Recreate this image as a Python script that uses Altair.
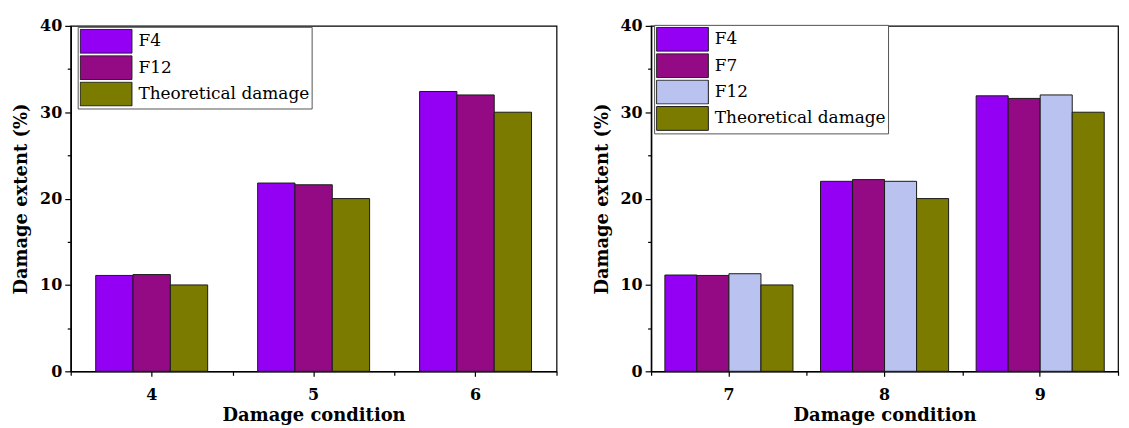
import altair as alt
import pandas as pd

# ---- data ----
left_conditions = ["4", "5", "6"]
left_series = ["F4", "F12", "Theoretical damage"]
left_F4 = [11.1, 21.8, 32.4]
left_F12 = [11.2, 21.6, 32.0]
left_theory = [10.0, 20.0, 30.0]
left_colors = ["#9300F4", "#930A84", "#7B7B00"]

right_conditions = ["7", "8", "9"]
right_series = ["F4", "F7", "F12", "Theoretical damage"]
right_F4 = [11.15, 22.0, 31.9]
right_F7 = [11.1, 22.2, 31.6]
right_F12 = [11.3, 22.0, 32.0]
right_theory = [10.0, 20.0, 30.0]
right_colors = ["#9300F4", "#930A84", "#BAC2F0", "#7B7B00"]

y_ticks = [0, 5, 10, 15, 20, 25, 30, 35, 40]

FONT = "DejaVu Serif"


def make_df(conds, series, vals):
    rows = []
    for s, v in zip(series, vals):
        for i, c in enumerate(conds):
            rows.append({"cond": c, "series": s, "value": v[i], "idx": i})
    return pd.DataFrame(rows)


def panel(conds, series, vals, colors, width, pad_outer, lx, ly):
    df = make_df(conds, series, vals)
    base = alt.Chart(df)
    bars = base.mark_bar(stroke="#1a1a1a", strokeWidth=1).encode(
        x=alt.X(
            "cond:N",
            sort=conds,
            scale=alt.Scale(paddingInner=0, paddingOuter=0),
            axis=alt.Axis(
                title="Damage condition",
                labelAngle=0,
                tickSize=5,
                labelPadding=10,
                titlePadding=4,
            ),
        ),
        xOffset=alt.XOffset(
            "series:N",
            sort=series,
            scale=alt.Scale(paddingInner=0, paddingOuter=pad_outer),
        ),
        y=alt.Y(
            "value:Q",
            scale=alt.Scale(domain=[0, 40], nice=False),
            axis=alt.Axis(
                title="Damage extent (%)",
                values=y_ticks,
                labelExpr="datum.value % 10 === 0 ? datum.label : ''",
                tickSize={
                    "condition": {"test": "datum.value % 10 === 0", "value": 6},
                    "value": 3.5,
                },
                labelPadding=3,
                titlePadding=9,
            ),
        ),
        color=alt.Color(
            "series:N",
            sort=series,
            scale=alt.Scale(domain=series, range=colors),
            legend=alt.Legend(
                title=None,
                orient="none",
                legendX=lx,
                legendY=ly,
                padding=2,
                strokeColor="#555555",
                fillColor="white",
                symbolType="M-1,-0.46L1,-0.46L1,0.46L-1,0.46Z",
                symbolSize=2704,
                symbolStrokeColor="#1a1a1a",
                symbolStrokeWidth=1,
                symbolOpacity=1,
                clipHeight=25,
                labelFont=FONT,
                labelFontSize=17,
                labelFontWeight="normal",
                labelColor="black",
                labelOffset=6,
                labelLimit=400,
                rowPadding=1.5,
            ),
        ),
    )
    minor = (
        base.transform_filter("datum.idx === 0")
        .transform_calculate(pos="0")
        .mark_point(opacity=0)
        .encode(
            x=alt.X(
                "pos:Q",
                scale=alt.Scale(domain=[0, len(conds)], nice=False, zero=False),
                axis=alt.Axis(
                    orient="bottom",
                    values=list(range(len(conds) + 1)),
                    labels=False,
                    domain=False,
                    grid=False,
                    title=None,
                    tickSize=4,
                ),
            )
        )
    )
    return (
        alt.layer(bars, minor)
        .resolve_scale(x="independent")
        .properties(width=width, height=347)
    )


left = panel(left_conditions, left_series, [left_F4, left_F12, left_theory],
             left_colors, 488, 0.67, 7, 1)
right = panel(right_conditions, right_series,
              [right_F4, right_F7, right_F12, right_theory],
              right_colors, 469, 0.43, 3, -1)

chart = (
    alt.hconcat(left, right, spacing=34)
    .resolve_scale(color="independent", xOffset="independent", x="independent", y="independent")
    .resolve_legend(color="independent")
    .properties(padding={"left": 4, "top": 8, "right": 1, "bottom": 2},
                background="white")
    .configure(font=FONT)
    .configure_view(stroke="black", strokeWidth=1.2)
    .configure_legend(labelFont=FONT, labelFontSize=17)
    .configure_axis(
        domainColor="black",
        domainWidth=1.5,
        tickColor="black",
        tickWidth=1.2,
        labelFont=FONT,
        labelFontSize=16,
        labelFontWeight="bold",
        labelColor="black",
        titleFont=FONT,
        titleFontSize=18,
        titleFontWeight="bold",
        titleColor="black",
        grid=False,
    )
)

chart.save("out.html", embed_options={"renderer": "svg", "actions": False})
